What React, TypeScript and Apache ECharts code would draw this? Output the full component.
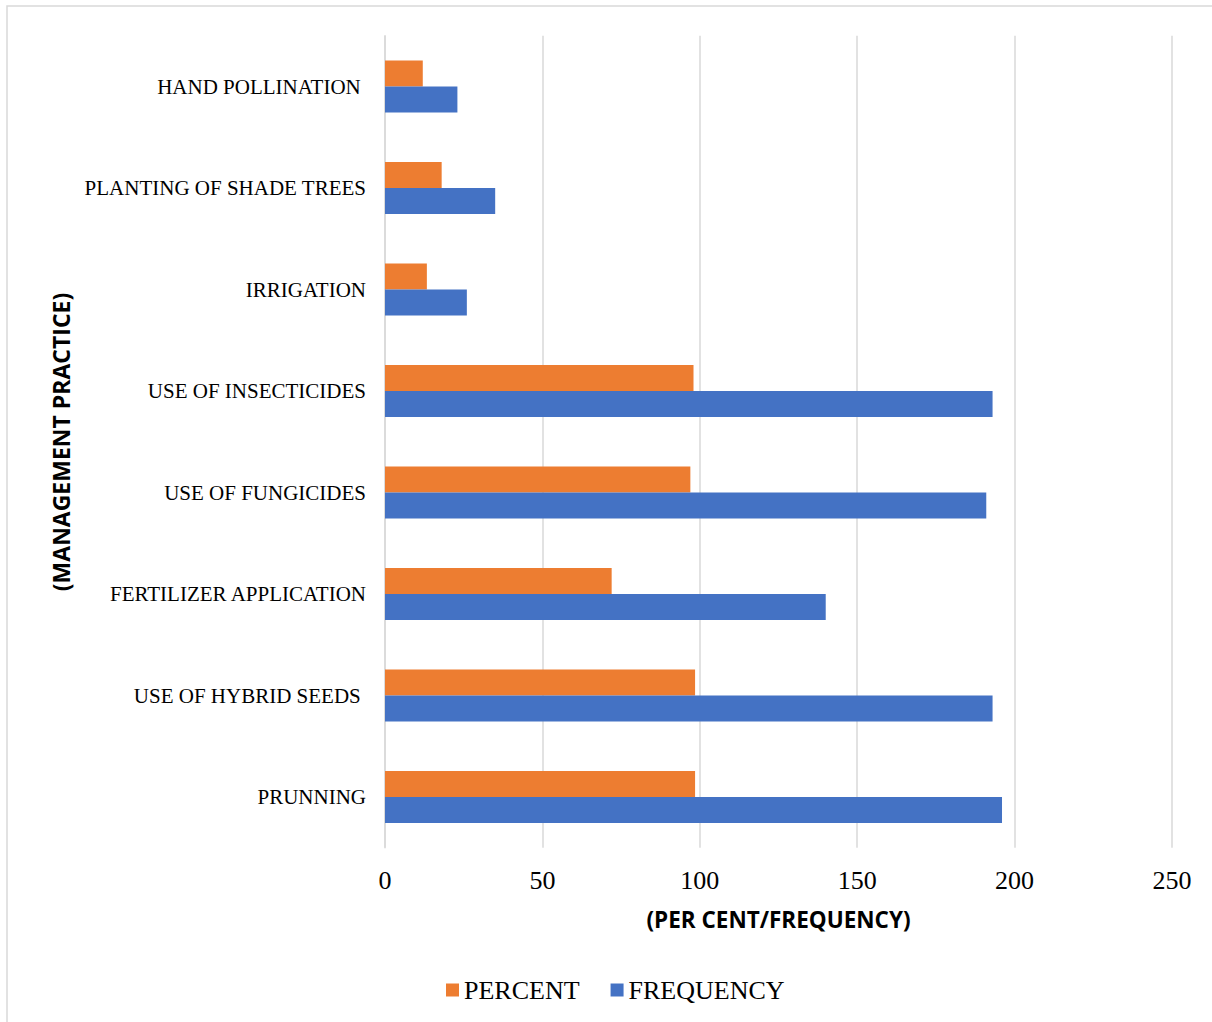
import React, { useEffect, useRef } from "react";
import * as echarts from "echarts";

// Management practices, listed top to bottom
const categories = [
  "HAND POLLINATION ",
  "PLANTING OF SHADE TREES",
  "IRRIGATION",
  "USE OF INSECTICIDES",
  "USE OF FUNGICIDES",
  "FERTILIZER APPLICATION",
  "USE OF HYBRID SEEDS ",
  "PRUNNING",
];

const percentValues = [12, 18, 13.3, 98, 97, 72, 98.5, 98.5];
const frequencyValues = [23, 35, 26, 193, 191, 140, 193, 196];

const xTicks = { min: 0, max: 250, interval: 50 };

const xTitle = "(PER CENT/FREQUENCY)";
const yTitle = "(MANAGEMENT PRACTICE)";

const ORANGE = "#ED7D31";
const BLUE = "#4472C4";
const GRID = "#d9d9d9";
const SERIF = "'Liberation Serif', 'Times New Roman', serif";
const SANS = "'Open Sans', 'Noto Sans', sans-serif";

export default function App() {
  const ref = useRef<HTMLDivElement>(null);

  useEffect(() => {
    if (!ref.current) return;
    const chart = echarts.init(ref.current, undefined, { renderer: "svg" });
    chart.setOption({
      animation: false,
      backgroundColor: "#ffffff",
      grid: { left: 385, top: 35.75, width: 787, height: 812, containLabel: false },
      legend: {
        data: ["PERCENT", "FREQUENCY"],
        left: 446,
        top: 977,
        padding: 0,
        itemWidth: 13,
        itemHeight: 13,
        itemGap: 31,
        icon: "rect",
        textStyle: { fontFamily: SERIF, fontSize: 26, color: "#000" },
      },
      xAxis: {
        type: "value",
        min: xTicks.min,
        max: xTicks.max,
        interval: xTicks.interval,
        axisLine: { show: false },
        axisTick: { show: false },
        axisLabel: { fontFamily: SERIF, fontSize: 26, color: "#000", margin: 20 },
        splitLine: { show: true, lineStyle: { color: GRID, width: 1.5 } },
      },
      yAxis: {
        type: "category",
        data: categories,
        inverse: true,
        axisLine: { show: true, lineStyle: { color: GRID, width: 1.5 } },
        axisTick: { show: false },
        axisLabel: { fontFamily: SERIF, fontSize: 21, color: "#000", margin: 19 },
        splitLine: { show: false },
      },
      series: [
        {
          name: "PERCENT",
          type: "bar",
          data: percentValues,
          barWidth: 26,
          barGap: "0%",
          itemStyle: { color: ORANGE },
        },
        {
          name: "FREQUENCY",
          type: "bar",
          data: frequencyValues,
          barWidth: 26,
          barGap: "0%",
          itemStyle: { color: BLUE },
        },
      ],
      graphic: [
        {
          type: "rect",
          z: -10,
          silent: true,
          shape: { x: 7, y: 6, width: 1400, height: 1200 },
          style: { fill: "none", stroke: GRID, lineWidth: 1.5 },
        },
        {
          type: "text",
          x: 778.5,
          y: 919,
          style: {
            text: xTitle,
            fontFamily: SANS,
            fontWeight: "bold",
            fontSize: 22.5,
            fill: "#000",
            align: "center",
            verticalAlign: "middle",
          },
        },
        {
          type: "text",
          x: 61,
          y: 442,
          rotation: Math.PI / 2,
          style: {
            text: yTitle,
            fontFamily: SANS,
            fontWeight: "bold",
            fontSize: 23,
            fill: "#000",
            align: "center",
            verticalAlign: "middle",
          },
        },
      ],
    });
    return () => chart.dispose();
  }, []);

  return (
    <div
      style={{ position: "fixed", left: 0, top: 0, width: 1212, height: 1022, background: "#fff" }}
    >
      <div ref={ref} style={{ width: 1212, height: 1022 }} />
    </div>
  );
}
